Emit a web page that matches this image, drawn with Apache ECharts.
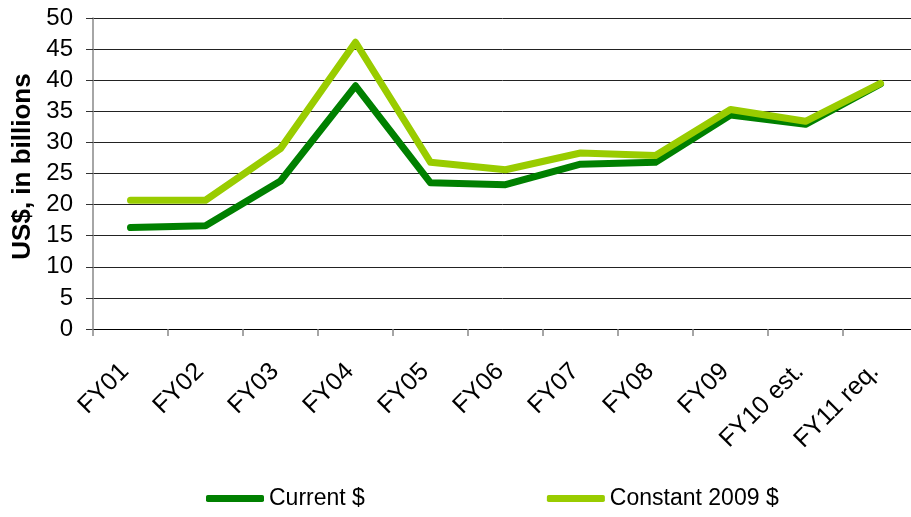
<!DOCTYPE html>
<html>
<head>
<meta charset="utf-8">
<script src="https://cdn.jsdelivr.net/npm/echarts@6/dist/echarts.min.js"></script>
<style>
html,body{margin:0;padding:0;background:#fff;}
#c{width:911px;height:517px;}
</style>
</head>
<body>
<div id="c"></div>
<script>
const categories = ['FY01','FY02','FY03','FY04','FY05','FY06','FY07','FY08','FY09','FY10 est.','FY11 req.'];
const currentDollars = [16.3, 16.6, 23.8, 39.1, 23.5, 23.2, 26.5, 26.8, 34.4, 32.9, 39.4];
const constant2009 = [20.7, 20.7, 29.0, 46.1, 26.8, 25.6, 28.3, 27.9, 35.3, 33.4, 39.5];
const yTicks = {min: 0, max: 50, interval: 5};

const chart = echarts.init(document.getElementById('c'), null, {renderer: 'canvas'});
const font = 'Arial, "Liberation Sans", sans-serif';
chart.setOption({
  animation: false,
  backgroundColor: '#fff',
  textStyle: {fontFamily: font},
  grid: {left: 93, top: 18, width: 825, height: 311, containLabel: false, outerBoundsMode: 'none'},
  legend: {
    left: 206, top: 487, padding: 0,
    itemWidth: 58, itemHeight: 7, itemGap: 182,
    icon: 'roundRect',
    textStyle: {fontFamily: font, fontSize: 23, color: '#000'},
    data: ['Current $', 'Constant 2009 $']
  },
  xAxis: {
    type: 'category',
    data: categories,
    boundaryGap: true,
    axisLine: {lineStyle: {color: '#000', width: 1}},
    axisTick: {show: true, length: 7, lineStyle: {color: '#888', width: 1.5}},
    axisLabel: {rotate: 45, fontSize: 25, color: '#000', margin: 33, padding: [0, 8, 0, 0], fontFamily: font, interval: 0}
  },
  yAxis: {
    type: 'value',
    min: yTicks.min, max: yTicks.max, interval: yTicks.interval,
    name: 'US$, in billions',
    nameLocation: 'middle',
    nameGap: 56,
    nameRotate: 90,
    nameTextStyle: {fontSize: 26, fontWeight: 'bold', color: '#000', fontFamily: font, padding: [0, 0, 0, 14]},
    axisLine: {show: true, lineStyle: {color: '#888', width: 1.5}},
    axisTick: {show: true, length: 7, lineStyle: {color: '#333', width: 1}},
    axisLabel: {fontSize: 24, color: '#000', margin: 20, fontFamily: font},
    splitLine: {show: true, lineStyle: {color: '#222', width: 1}}
  },
  series: [
    {
      name: 'Current $', type: 'line', data: currentDollars,
      symbol: 'none', color: '#008000',
      lineStyle: {width: 7, color: '#008000', cap: 'round', join: 'round'}
    },
    {
      name: 'Constant 2009 $', type: 'line', data: constant2009,
      symbol: 'none', color: '#99CC00',
      lineStyle: {width: 7, color: '#99CC00', cap: 'round', join: 'round'}
    }
  ]
});
</script>
</body>
</html>
